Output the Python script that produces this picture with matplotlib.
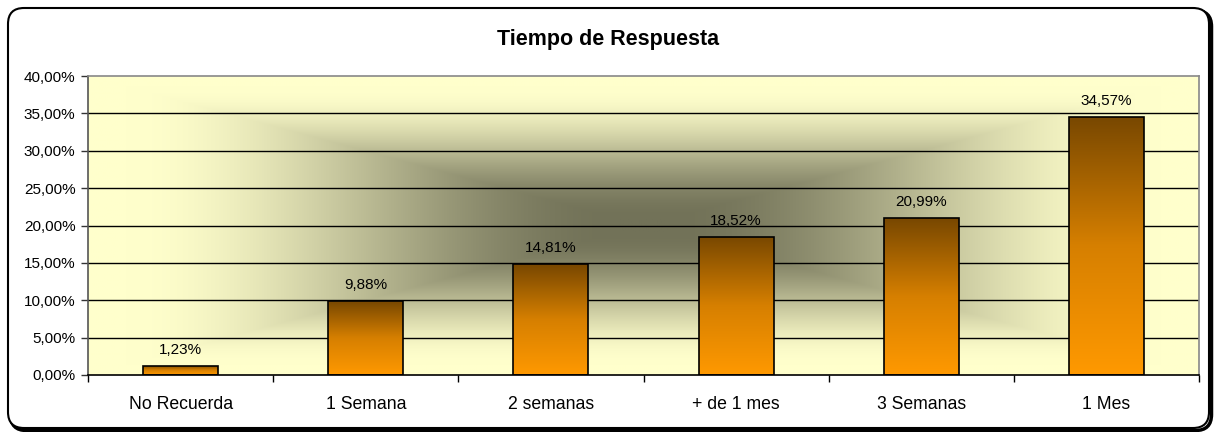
import numpy as np
import matplotlib
matplotlib.use("Agg")
import matplotlib.pyplot as plt
from matplotlib.patches import FancyBboxPatch
from matplotlib.colors import LinearSegmentedColormap

plt.rcParams['font.family'] = ['Liberation Sans', 'DejaVu Sans']

categories = ["No Recuerda", "1 Semana", "2 semanas", "+ de 1 mes", "3 Semanas", "1 Mes"]
values = [1.23, 9.88, 14.81, 18.52, 20.99, 34.57]
yticks = [0, 5, 10, 15, 20, 25, 30, 35, 40]
title = "Tiempo de Respuesta"

W, H = 1216, 432
fig = plt.figure(figsize=(W / 100, H / 100), dpi=100)
fig.patch.set_facecolor("white")

# frame layer in pixel coordinates
bg = fig.add_axes([0, 0, 1, 1], zorder=-5)
bg.set_xlim(0, W)
bg.set_ylim(H, 0)
bg.axis("off")
shadow = FancyBboxPatch((10.5, 10.5), 1201, 420, boxstyle="round,pad=0,rounding_size=16",
                        facecolor="none", edgecolor="black", linewidth=2.5)
bg.add_patch(shadow)
frame = FancyBboxPatch((8, 8), 1201, 420, boxstyle="round,pad=0,rounding_size=16",
                       facecolor="white", edgecolor="black", linewidth=1.5)
bg.add_patch(frame)

fig.text(0.5, 1 - 40 / H, title, ha="center", va="center", fontsize=15.5, fontweight="bold")

L, R, T, B = 88, 1199, 76, 375
ax = fig.add_axes([L / W, (H - B) / H, (R - L) / W, (B - T) / H])

# rectangular "from center" gradient background
nx, ny = 600, 300
xx = np.linspace(-1, 1, nx)
yy = np.linspace(-1, 1, ny)
X, Y = np.meshgrid(xx, yy)
t = np.maximum(np.abs(X), np.abs(Y))
u = np.clip((t - 0.05) / 0.88, 0, 1)
f = 3 * u ** 2 - 2 * u ** 3
dark = np.array([114, 114, 88]) / 255
light = np.array([255, 255, 204]) / 255
img = dark[None, None, :] + (light - dark)[None, None, :] * f[..., None]
n = len(categories)
ax.imshow(img, extent=[-0.5, n - 0.5, 0, 40], aspect="auto", zorder=0, interpolation="bilinear")

ax.set_xlim(-0.5, n - 0.5)
ax.set_ylim(0, 40)

for yv in yticks[1:-1]:
    ax.axhline(yv, color="black", linewidth=1.0, zorder=1)

bar_cmap = LinearSegmentedColormap.from_list("bar", [(1.0, 0.6, 0.0), (0.84, 0.5, 0.0), (0.47, 0.28, 0.0)])
bars = ax.bar(range(n), values, width=0.405, facecolor="none", edgecolor="black", linewidth=1.2, zorder=3)
grad = np.linspace(0, 1, 256).reshape(-1, 1)
for b in bars:
    x0, y0 = b.get_x(), b.get_y()
    w, h = b.get_width(), b.get_height()
    im = ax.imshow(grad, cmap=bar_cmap, extent=[x0, x0 + w, y0, y0 + h], origin="lower",
                   aspect="auto", zorder=2, interpolation="bilinear")
    im.set_clip_path(b)

for i, v in enumerate(values):
    ax.annotate(f"{v:.2f}".replace(".", ",") + "%", (i, v), xytext=(0, 6.5), textcoords="offset points",
                ha="center", va="bottom", fontsize=11, color="black", zorder=4)

ax.set_yticks(yticks)
ax.set_yticklabels([f"{v:.2f}".replace(".", ",") + "%" for v in yticks], fontsize=11)
ax.set_xticks(range(n))
ax.set_xticklabels(categories, fontsize=12.7)
ax.set_xticks(np.arange(-0.5, n, 1.0), minor=True)
ax.tick_params(axis="x", which="major", length=0, pad=15)
ax.tick_params(axis="x", which="minor", length=5, width=1, color="black")
ax.tick_params(axis="y", length=5, width=1, color="#333333", pad=4)

ax.spines["top"].set_color("#888888")
ax.spines["right"].set_color("#888888")
ax.spines["left"].set_color("#555555")
ax.spines["bottom"].set_color("black")
for s in ax.spines.values():
    s.set_linewidth(1.2)
    s.set_zorder(5)

fig.savefig("out.png", dpi=100, facecolor="white")
